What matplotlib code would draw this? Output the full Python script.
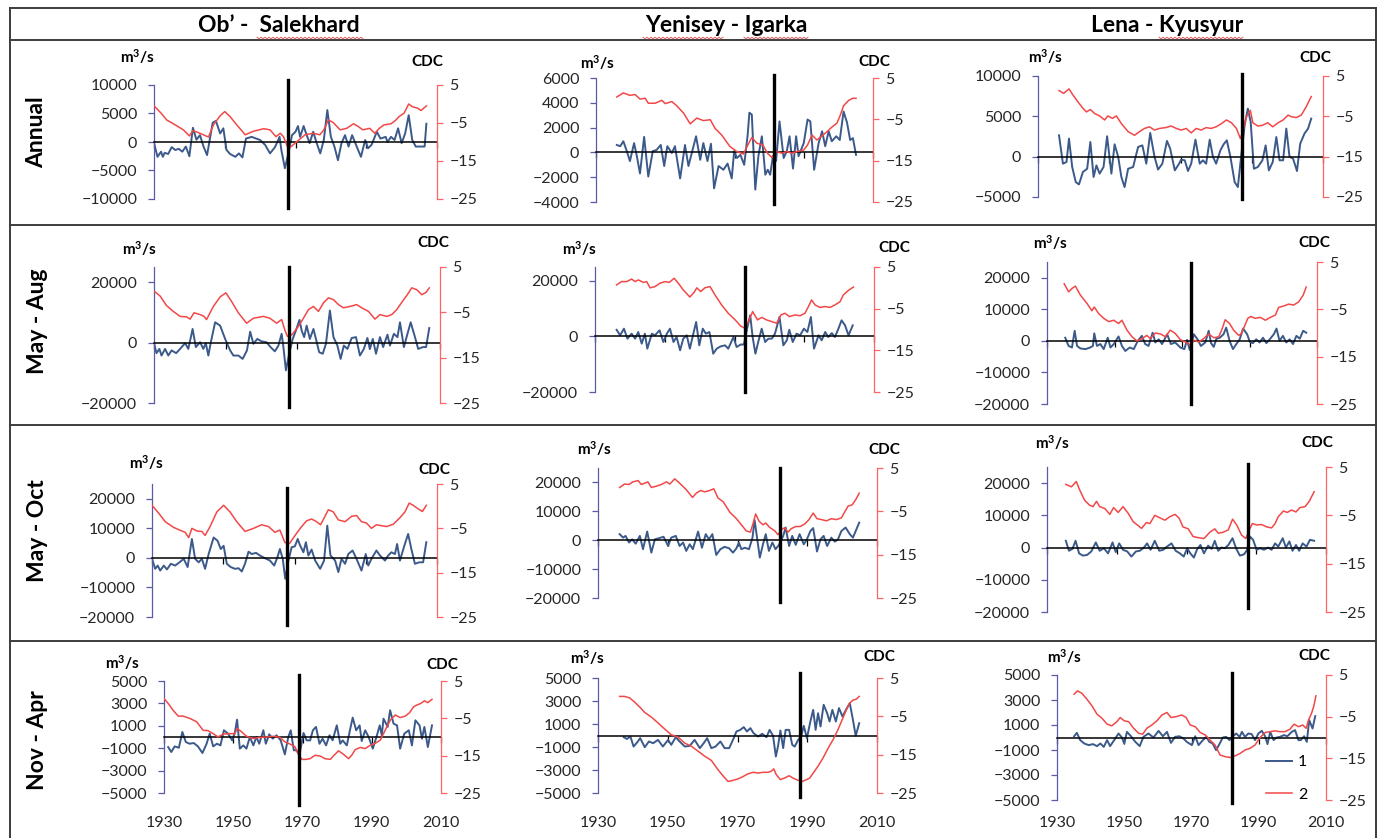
import matplotlib
matplotlib.use("Agg")
import matplotlib.pyplot as plt
import matplotlib.transforms as mtransforms
from matplotlib.lines import Line2D
import numpy as np

plt.rcParams['font.family'] = ['Lato', 'DejaVu Sans']
plt.rcParams['mathtext.fontset'] = 'custom'
plt.rcParams['mathtext.rm'] = 'Lato'
plt.rcParams['mathtext.bf'] = 'Lato:bold'

W, H = 1381, 838

rivers = ["Ob\u2019 -  Salekhard", "Yenisey - Igarka", "Lena - Kyusyur"]
seasons = ["Annual", "May - Aug", "May - Oct", "Nov - Apr"]
year_ticks = [1930, 1950, 1970, 1990, 2010]
cdc_ticks = [-25, -15, -5, 5]

flow_ticks = [
    [[-10000, -5000, 0, 5000, 10000], [-4000, -2000, 0, 2000, 4000, 6000], [-5000, 0, 5000, 10000]],
    [[-20000, 0, 20000], [-20000, 0, 20000], [-20000, -10000, 0, 10000, 20000]],
    [[-20000, -10000, 0, 10000, 20000]] * 3,
    [[-5000, -3000, -1000, 1000, 3000, 5000]] * 3,
]
flow_limits = [
    [(-10000, 10000), (-4000, 6000), (-5000, 10000)],
    [(-20000, 25000)] * 3,
    [(-20000, 25000)] * 3,
    [(-5000, 5000)] * 3,
]
break_years = [[1968, 1981.3, 1987.2], [1967.8, 1973.1, 1972.7], [1968, 1982.3, 1987.5], [1969, 1987.8, 1982]]

# ---- discharge anomalies (m3/s), (year, value) ----
ob_annual = [(1930, -200), (1931, -2600), (1932, -1700), (1932.5, -2600), (1933, -1900), (1934, -2100), (1935, -900),
             (1936, -1400), (1937, -1200), (1938, -1700), (1939, -800), (1940, -2500), (1941, 2500), (1942, 400),
             (1943, 1200), (1944, -800), (1945, -2300), (1946.6, 3400), (1947.5, 3700), (1948.7, 1500), (1949.6, 2400),
             (1950.5, -1400), (1951.5, -2100), (1953, -2600), (1954, -2000), (1955, -2700), (1956, 600), (1957.6, 900),
             (1958.9, 600), (1960, 350), (1961.4, -500), (1962.8, -2000), (1964.2, -900), (1965.5, 900), (1966, -1400),
             (1967, -4600), (1968, -2000), (1969, 1200), (1970, 1800), (1970.7, 2800), (1971.3, 900), (1972.3, 2800),
             (1973, 1500), (1974, -200), (1975, 1800), (1976, -200), (1977, -2000), (1978, 350), (1979, 5600),
             (1980, 900), (1981, -800), (1982, -3200), (1983, -200), (1984, 1200), (1985, -800), (1986, 1200),
             (1987.5, -1100), (1988.5, -2600), (1989.7, 350), (1990.5, -1100), (1991.5, -500), (1993, 1800),
             (1994, 600), (1995.5, 900), (1996, 0), (1997, 900), (1998, 350), (1999, 2400), (2000, -200), (2001, 1500),
             (2002, 4700), (2003, 350), (2004, -800), (2005.5, -800), (2006.5, -800), (2007, 3200)]
yen_annual = [(1936, 600), (1937, 500), (1937.9, 900), (1938.9, 100), (1939.8, -700), (1941, 750), (1941.8, -300),
              (1942.7, -1700), (1943.9, 1250), (1945.1, -1950), (1946.4, 100), (1947.5, 200), (1948.7, 600),
              (1949.7, -1100), (1950.6, 500), (1951.9, -50), (1952.8, 500), (1954.3, -2100), (1955.7, 600),
              (1956.7, -1100), (1958.9, 1300), (1960.1, -600), (1961, 750), (1962.2, -700), (1963.2, 700),
              (1964.1, -2900), (1965.4, -1100), (1966.8, -1400), (1968, -900), (1969.2, -2100), (1969.9, 100),
              (1970.7, -450), (1971.7, -200), (1972.8, -1000), (1973.8, 1400), (1974.3, 3200), (1975, 3050),
              (1976, -3000), (1976.9, -300), (1977.9, 1300), (1978.9, -1800), (1979.6, -1400), (1980.3, -1800),
              (1981.1, -300), (1982, -700), (1983, 2500), (1984.2, -450), (1985.1, 100), (1985.9, 1300),
              (1986.9, -1300), (1987.8, 1300), (1988.5, -300), (1990, 750), (1991.1, 2650), (1991.9, 2500),
              (1993, -1400), (1994.3, 750), (1995.3, 1700), (1996.2, 500), (1997.2, 1700), (1998.1, 900),
              (1999.4, 1300), (2000.4, 1000), (2001.5, 3300), (2002.5, 2400), (2003.4, 1000), (2004.2, 1150),
              (2005.1, -200)]
lena_annual = [(1935.9, 2650), (1937, -870), (1938, -660), (1938.7, 2240), (1939.6, -1280), (1940.6, -3150),
               (1941.5, -3440), (1942.6, -1900), (1943.8, -1500), (1944.7, 1820), (1945.6, -2520), (1946.4, -1080),
               (1947.3, -2100), (1948.4, -1280), (1949.4, 2530), (1950.6, -2100), (1951.5, 1530), (1952.5, 0),
               (1953.4, -2520), (1954.3, -3770), (1955.3, -1500), (1956.7, -1280), (1958.1, 1200), (1959.3, 1400),
               (1960.4, -870), (1961.5, 2940), (1962.7, 0), (1963.7, -1600), (1964.9, -870), (1966.2, 1950),
               (1967.1, 1000), (1968.4, -1700), (1969.6, -870), (1970.2, -370), (1971.2, -450), (1972.1, -1780),
               (1973, -870), (1974.2, 2110), (1975.4, -870), (1976.3, -450), (1977.2, -870), (1978.2, 2110),
               (1979.1, 0), (1980, -870), (1981.2, 790), (1982.1, 1530), (1983, 2030), (1984, 0), (1985.2, -3150),
               (1986.1, -3770), (1987.1, 370), (1988, 3890), (1988.9, 5960), (1989.7, 4300), (1990.6, -1500),
               (1991.7, -1280), (1993, -450), (1993.9, 1400), (1994.8, -1700), (1995.9, -660), (1996.9, 2440),
               (1997.8, -450), (1998.8, -450), (1999.7, 3480), (2000.6, 0), (2001.6, -250), (2002.7, -1780),
               (2003.6, 1610), (2004.8, 2860), (2005.8, 3480), (2006.7, 4720)]
ob_mayaug = [(1930, -200), (1930.7, -3500), (1931.5, -2100), (1932.1, -4300), (1933.1, -2100), (1934, -4300),
             (1934.9, -2600), (1936.2, -3500), (1937.3, -2100), (1938.7, -200), (1939.6, -2100), (1940.8, 4500),
             (1941.7, -1500), (1942.9, 100), (1943.8, -2100), (1944.5, -200), (1945.2, -4300), (1945.9, 100),
             (1947.1, 6700), (1948.5, 5600), (1949.9, 1200), (1951.3, -2600), (1952.2, -4300), (1953.6, -4300),
             (1954.8, -5400), (1956, -2600), (1956.9, 3600), (1957.8, -400), (1958.9, 1200), (1960.1, 400),
             (1961.5, 100), (1962.6, -1500), (1963.8, -2900), (1964.8, -1000), (1965.7, 2900), (1966.2, -1500),
             (1966.9, -9200), (1967.9, -3200), (1968.8, 1200), (1969.7, 4000), (1970.7, 7500), (1971.3, 4000),
             (1972, 1800), (1972.7, 5600), (1973.6, 1200), (1974.6, 4500), (1975.3, 1200), (1976.2, -3200),
             (1977.2, -3700), (1978.1, -400), (1979.2, 10600), (1980.2, 1800), (1981.3, -1000), (1982.2, -5400),
             (1983.1, -1000), (1984.1, -2100), (1985.3, 1500), (1986.5, 1800), (1987.6, -4300), (1988.7, -2100),
             (1989.7, 1500), (1990.4, -2100), (1991.2, 1200), (1992.1, -3700), (1993.2, 1800), (1994.1, -1500),
             (1995.3, 2600), (1996, -1000), (1997.1, 2900), (1998.1, 1800), (1998.8, 6700), (1999.9, -1500),
             (2000.9, 2900), (2001.8, 6700), (2003, 1800), (2003.9, -2100), (2005.2, -1500), (2006.1, -1500),
             (2007, 4800)]
yen_mayaug = [(1936.2, 2400), (1937.2, 400), (1938.3, 2800), (1939.3, -800), (1940.5, 1000), (1941.5, -800),
              (1942.4, 1600), (1943.4, -2600), (1944.3, 1000), (1945, -4400), (1946.3, 1000), (1947.2, 400),
              (1948.5, 2200), (1949.6, -2000), (1950.6, 1000), (1951.5, 2800), (1952.5, -2000), (1953.4, -200),
              (1954.4, -5000), (1955.3, -800), (1956.3, 400), (1957.2, -4400), (1958.2, 1000), (1959, 5200),
              (1959.9, -3200), (1960.9, 2800), (1961.8, 1000), (1962.8, 1600), (1963.9, -6200), (1964.9, -4400),
              (1966, -3600), (1967.3, -3200), (1968.2, -4400), (1969.7, -200), (1970.6, -3800), (1971.8, -2900),
              (1972.7, -2900), (1973.5, 2200), (1974.5, 7600), (1975.2, -200), (1976, -6200), (1976.8, -2000),
              (1977.8, 2800), (1978.8, -2000), (1979.7, -800), (1980.7, -800), (1981.6, 1000), (1982.9, 7000),
              (1984, -3200), (1985, -1400), (1985.7, 2400), (1986.7, -2000), (1987.8, 1000), (1988.8, 400),
              (1989.9, 2800), (1990.9, 1600), (1991.9, 7000), (1992.8, -4400), (1994.1, 400), (1995, -1400),
              (1996, 1600), (1996.9, -200), (1997.9, 1200), (1998.8, -200), (1999.8, 2800), (2000.7, 5800),
              (2001.7, 4000), (2002.7, 400), (2003.9, 4000)]
lena_mayaug = [(1935.4, 1000), (1936.4, -1600), (1937.4, -2100), (1938.2, 3200), (1938.9, -1600), (1939.9, -2400),
               (1941.4, -2600), (1942.8, -2100), (1943.6, -1600), (1944, 2400), (1944.8, -1600), (1945.8, -1000),
               (1946.8, -2600), (1948, 1000), (1948.8, -2100), (1949.8, -1000), (1951.2, 1400), (1952.2, -1600),
               (1953.2, -3200), (1954.5, -2100), (1955.7, -2600), (1956.9, 0), (1958.1, 1600), (1959.1, -1000),
               (1960.1, -1600), (1961.3, 2600), (1962.1, -500), (1963.1, 500), (1964.1, -1000), (1965.6, 2100),
               (1966.7, -1000), (1968, -500), (1969.5, -2100), (1970.7, -2600), (1971.5, 300), (1972.3, -2900),
               (1973.5, 2100), (1974.6, 500), (1975.6, -1600), (1976.9, -500), (1977.9, 3200), (1978.6, -700),
               (1979.4, -1900), (1980.2, 700), (1981.2, 1000), (1982.3, 2100), (1983.1, 4200), (1984.1, 0),
               (1985.1, -2600), (1986.1, -1000), (1987.1, 500), (1988.1, 3900), (1989.3, 2100), (1990.1, -300),
               (1991, -700), (1992, 500), (1993, -500), (1994, 1000), (1995, -700), (1996, 500), (1997.2, 2100),
               (1998, 3900), (1998.9, 0), (1999.9, 1600), (2000.9, -500), (2001.9, 500), (2002.9, -1000),
               (2003.9, 1600), (2004.9, 700), (2005.9, 3200), (2006.8, 2600)]
ob_mayoct = [(1930, -300), (1930.9, -3700), (1931.6, -2600), (1932.3, -4300), (1933.3, -2600), (1934.2, -3900),
             (1935.3, -2000), (1936.5, -2600), (1937.7, -1500), (1938.9, -300), (1940, -3100), (1941.2, 6400),
             (1942.1, -300), (1943.1, -1500), (1944, -300), (1944.9, -3700), (1945.9, 1300), (1947.3, 6900),
             (1948.4, 5800), (1949.3, 3000), (1950.1, 4100), (1951, -2000), (1952.1, -3100), (1953.3, -3700),
             (1954.3, -3500), (1955.2, -4600), (1956.1, -2000), (1957.1, 2100), (1958, 1300), (1959.2, 1700),
             (1960.3, 800), (1961.7, -100), (1963.1, -900), (1964.3, -2600), (1965.2, 200), (1965.9, 3000),
             (1966.7, -300), (1967.4, -7100), (1968.3, -900), (1969.2, 3600), (1970.1, 3900), (1970.9, 6400),
             (1971.5, 4400), (1972.5, 1900), (1973.2, 5300), (1973.9, 800), (1974.8, 2800), (1975.8, -900),
             (1977.2, -3700), (1978.3, -900), (1979.2, 10900), (1980.1, 800), (1981.4, -900), (1982.3, -4800),
             (1983.2, -300), (1984.2, -2000), (1985.1, 1300), (1986.3, 2500), (1987.4, -300), (1988.8, -4300),
             (1990, 1300), (1990.7, -2600), (1991.6, -300), (1993, 2500), (1994, 800), (1995.4, -900), (1996.3, 800),
             (1997.2, 1900), (1998.2, 1300), (1998.8, 4700), (1999.6, -900), (2000.7, 3600), (2001.9, 8100),
             (2002.8, 3000), (2003.8, -2000), (2005, -1500), (2006.1, -1500), (2007, 5300)]
yen_mayoct = [(1936.2, 2100), (1937.2, 900), (1937.9, 1500), (1938.9, -800), (1939.8, 300), (1940.8, -1200),
              (1942, 1500), (1942.9, -3100), (1944.1, 3000), (1945.3, -4300), (1946.3, 300), (1947.5, 700),
              (1948.8, 1200), (1950.1, -2000), (1951, 900), (1952.3, 1500), (1953.4, -2000), (1954.4, -800),
              (1955.3, -3700), (1956.3, -1400), (1957.2, -3100), (1958.7, 3000), (1959.8, -2600), (1960.9, 2100),
              (1961.8, 300), (1962.8, 2100), (1963.9, -5100), (1965.1, -3100), (1966.3, -2300), (1967.6, -2800),
              (1968.7, -4300), (1969.7, -2800), (1970.4, -800), (1971.1, -3100), (1972.1, -2600), (1973.3, -3100),
              (1974.3, 900), (1974.9, 7000), (1975.6, 900), (1976.4, -6000), (1977.3, -1400), (1978.1, 2100),
              (1979, -3700), (1980, -800), (1980.9, -3100), (1981.9, -1600), (1983.1, 1500), (1983.8, 4400),
              (1984.8, -2000), (1985.7, 1500), (1986.7, -1600), (1987.8, 2100), (1989, -1400), (1989.9, 300),
              (1990.9, 3200), (1991.7, 4200), (1992.8, -3900), (1993.8, 300), (1994.7, 1500), (1995.7, -2000),
              (1996.9, 900), (1997.9, -500), (1998.8, 300), (1999.8, 3200), (2001, 4400), (2002.2, 2100),
              (2003.1, 900), (2004.9, 6100)]
lena_mayoct = [(1935.4, 2100), (1936.3, -1000), (1937.3, -400), (1938.2, 2100), (1939.2, -1800), (1940.3, -2500),
               (1941.5, -2300), (1942.7, -1200), (1944, 1600), (1945.1, -1000), (1946.3, -200), (1947.5, -1800),
               (1948.8, 1600), (1949.7, -1400), (1950.7, 1300), (1951.8, -700), (1953, -1200), (1954.2, -2800),
               (1955.5, -1200), (1956.6, -1000), (1957.8, 0), (1958.7, 1300), (1959.7, -700), (1960.9, 2100),
               (1962.2, -1000), (1963.3, -700), (1964.4, 300), (1965.7, 1300), (1966.9, -1000), (1968.1, -1800),
               (1969.2, -2800), (1970.2, -200), (1971.1, -1800), (1972.1, -3100), (1973.1, -400), (1974, 800),
               (1975, -1800), (1976.2, 600), (1977.2, -400), (1978.1, 2100), (1979.1, -1000), (1980, 0),
               (1981, -200), (1982, 800), (1983.2, 2900), (1984.2, -200), (1985.3, -2500), (1986.5, -2100),
               (1987.4, -700), (1988.2, 3400), (1989.1, 2400), (1990.1, -700), (1991.1, -200), (1992.2, -700),
               (1993.4, 0), (1994.4, -700), (1995.4, 1300), (1996.3, 300), (1997.6, 2900), (1998.5, 0),
               (1999.5, 1900), (2000.4, -1000), (2001.4, 800), (2002.3, -1000), (2003.3, 1300), (2004.4, 300),
               (2005.4, 2400), (2006.6, 2100)]
ob_novapr = [(1931.2, -900), (1932.1, -1340), (1933.1, -840), (1934.3, -960), (1935.3, 450), (1936.3, -450),
             (1937.4, -600), (1938.6, -540), (1939.8, -840), (1941.1, -1430), (1942.3, -600), (1943.2, 300),
             (1944.2, -840), (1945.3, -600), (1946.3, -750), (1947.3, 600), (1948.5, 300), (1949.7, -300),
             (1950.5, 450), (1951.1, 1550), (1951.9, -1040), (1952.9, -750), (1953.8, -1040), (1954.8, 0),
             (1955.8, -750), (1956.7, 0), (1957.5, -600), (1958.7, 600), (1959.4, -600), (1960.4, 240),
             (1961.4, -150), (1962.5, 150), (1963.7, -300), (1964.9, -1550), (1965.9, 0), (1966.6, 600),
             (1967.5, -1190), (1968.3, -1190), (1969.1, -1640), (1970.3, 360), (1971.2, -300), (1972.2, -300),
             (1973, 600), (1973.9, 900), (1974.9, -600), (1975.8, -150), (1976.8, -750), (1977.8, 150),
             (1978.7, -300), (1979.9, 1040), (1980.9, -600), (1981.6, -300), (1982.8, -750), (1983.8, 750),
             (1984.5, 1730), (1985.5, 600), (1986.5, 1040), (1987.1, -360), (1988.1, 600), (1989.1, 0),
             (1990.3, -1040), (1991.5, 150), (1992.3, 1040), (1992.9, 150), (1993.4, 1640), (1994.6, 900),
             (1995.3, 2390), (1996.3, 1190), (1997.3, 1040), (1998.2, -1040), (1999.4, 300), (2000.7, 600),
             (2001.6, -750), (2002.6, 1490), (2003.8, 1040), (2004.5, -150), (2005.2, 900), (2006.2, -900),
             (2007.4, 1040)]
yen_novapr = [(1937.4, -150), (1938.3, -300), (1939.3, -90), (1940.2, -960), (1941.2, -610), (1942.1, -230),
              (1943.4, -1020), (1944.6, -520), (1945.8, -670), (1947.2, -380), (1948.6, -960), (1950.1, -380),
              (1951, -810), (1952.3, -150), (1953.4, -520), (1954.9, -960), (1956.3, -900), (1957.7, -380),
              (1959.2, -1100), (1960.3, -670), (1961.3, -230), (1962.5, -1100), (1963.7, -960), (1965.1, -520),
              (1966.3, -1100), (1967.6, -1100), (1968.7, -380), (1969.7, 350), (1970.8, 490), (1971.8, 730),
              (1972.7, 350), (1973.7, 640), (1974.6, 200), (1975.9, -90), (1977.1, 150), (1978.3, -150),
              (1979.2, 490), (1980.2, -30), (1981, -1830), (1981.6, -960), (1982.3, 440), (1983.1, -1100),
              (1983.8, 490), (1984.8, 490), (1985.7, -810), (1986.4, -960), (1987.4, -380), (1988.3, -30),
              (1989, 840), (1989.9, -230), (1990.9, 1220), (1991.7, 2230), (1992.4, 490), (1993.1, 1940),
              (1993.8, 780), (1994.7, 2670), (1995.7, 1940), (1996.4, 1220), (1997.2, 2230), (1998.2, 1220),
              (1999.1, 2380), (2000.1, 1650), (2001.2, 2290), (2002.2, 2810), (2003.1, 1360), (2003.9, -30),
              (2004.9, 1070)]
lena_novapr = [(1935.1, 100), (1935.9, 370), (1936.9, -210), (1938.1, -480), (1939.4, -610), (1940.7, -530),
               (1941.9, -690), (1942.9, -480), (1943.9, -750), (1944.9, -210), (1945.8, -690), (1947, -210),
               (1948.3, 320), (1949.3, 0), (1950, -480), (1950.8, 450), (1952, 100), (1953.3, -350), (1954.6, -690),
               (1955.7, 50), (1957.2, 320), (1958.7, 0), (1960.2, 530), (1961.5, 100), (1962.7, 450), (1963.9, -430),
               (1965.1, 50), (1966.4, 100), (1967.6, -80), (1968.6, -350), (1970.1, -610), (1971.1, 100),
               (1972.1, -610), (1973.4, -210), (1974.4, 50), (1975.3, -350), (1976.3, -480), (1977.3, -1010),
               (1978.3, -530), (1979.3, 0), (1980.3, 50), (1981.3, -210), (1982.3, 100), (1983.3, 320), (1984.3, 50),
               (1985, 450), (1985.9, 50), (1986.9, 320), (1987.9, 270), (1988.9, -210), (1989.9, 320), (1990.9, 530),
               (1991.9, 100), (1992.6, -530), (1993.4, 450), (1994.4, -210), (1995.3, 0), (1996.3, 50),
               (1997.5, 190), (1998.5, 100), (1999.8, 450), (2000.8, 590), (2001.8, -210), (2002.5, -210),
               (2003.5, 100), (2004.3, -350), (2005, 1390), (2006, 720), (2006.8, 1710)]

# ---- cumulative deviation curves (CDC), (year, value) ----
ob_annual_cdc = [(1930, -0.5), (1932, -2.4), (1933.6, -4.2), (1936, -5.5), (1938.3, -6.8), (1940, -8.4), (1941, -7.0),
                 (1943, -7.7), (1945.4, -8.7), (1946.8, -5.5), (1948.7, -3.1), (1950, -2.0), (1951.5, -3.3),
                 (1953.4, -5.5), (1955.8, -8.1), (1958, -7.2), (1961, -6.5), (1962.8, -6.8), (1964.5, -8.6),
                 (1965.7, -7.7), (1966.6, -8.6), (1967.7, -11.2), (1968.5, -11.4), (1970.4, -9.9), (1972.7, -8.1),
                 (1975, -7.7), (1976.9, -8.1), (1978, -6.8), (1979.3, -4.2), (1980.7, -4.9), (1982.6, -6.8),
                 (1984.5, -6.4), (1986.4, -5.2), (1987.7, -5.9), (1989, -6.8), (1991, -6.4), (1992.4, -7.7),
                 (1993.7, -6.4), (1995, -5.5), (1997, -5.2), (1998.4, -4.2), (1999.3, -3.3), (2000.7, -2.4),
                 (2002, 0.0), (2003, -0.7), (2004.5, -1.1), (2005.5, -1.7), (2007, -0.5)]
yen_annual_cdc = [(1936, 0.4), (1937.9, 1.4), (1939.8, 0.8), (1941.3, 1.0), (1942.7, -0.1), (1944.2, 0.1),
                  (1945.1, -1.1), (1947.1, -1.1), (1949, -0.4), (1950, -1.2), (1951.9, -0.7), (1953.3, -1.7),
                  (1955.3, -3.5), (1957.2, -6.1), (1959.1, -4.7), (1961, -5.3), (1963, -5.1), (1964.4, -7.2),
                  (1966.3, -8.8), (1968.7, -11.6), (1970.7, -12.8), (1972.6, -13.4), (1973.6, -11.6), (1975, -9.4),
                  (1976.5, -10.8), (1978.2, -11.2), (1979.5, -13.2), (1980.8, -14.2), (1982, -12.8), (1983.7, -13.2),
                  (1985.1, -12.8), (1986.6, -13.2), (1988, -12.8), (1990, -12.4), (1991.1, -11.2), (1992.4, -8.8),
                  (1993.8, -10.0), (1995.3, -9.0), (1996.7, -8.0), (1998.1, -6.9), (1999.6, -5.9), (2000.6, -3.9),
                  (2001.5, -1.7), (2003, -0.4), (2004.2, 0.1), (2005.1, 0.1)]
lena_annual_cdc = [(1935.9, 1.4), (1937.2, 0.7), (1938.7, 1.8), (1939.8, 0.3), (1941.2, -1.4), (1942.6, -3.0),
                   (1943.6, -3.9), (1944.7, -3.3), (1945.9, -4.3), (1947.3, -4.9), (1948.7, -5.9), (1949.6, -4.9),
                   (1950.9, -5.5), (1952, -4.9), (1953.4, -6.8), (1955.3, -8.8), (1957.1, -9.7), (1958.5, -8.8),
                   (1959.9, -8.0), (1961.3, -7.6), (1962.7, -8.4), (1964.1, -8.0), (1965.8, -7.8), (1967.4, -7.4),
                   (1968.8, -8.0), (1970.2, -8.4), (1971.6, -8.0), (1973, -9.1), (1974.4, -8.0), (1975.8, -8.4),
                   (1977.2, -7.8), (1978.6, -8.0), (1980, -7.6), (1981.5, -6.8), (1982.9, -5.9), (1984.3, -6.6),
                   (1985.7, -8.0), (1986.8, -10.5), (1987.5, -8.8), (1988.5, -5.1), (1989.6, -3.5), (1990.3, -6.6),
                   (1991.7, -7.4), (1993.1, -7.2), (1994.5, -6.6), (1995.9, -7.6), (1997.4, -6.6), (1998.8, -5.9),
                   (2000.2, -4.7), (2001.1, -5.1), (2002.5, -5.3), (2003.9, -4.7), (2005.3, -2.6), (2006.7, -0.1)]
ob_mayaug_cdc = [(1930, -0.3), (1931.7, -1.4), (1933.5, -3.5), (1935.4, -4.8), (1937.3, -5.9), (1939.1, -6.0),
                 (1940.1, -6.5), (1941.2, -5.1), (1942.9, -5.5), (1944, -5.9), (1944.7, -6.6), (1946.6, -3.7),
                 (1948.5, -1.6), (1950.1, -0.7), (1951.7, -2.6), (1953.6, -5.1), (1955.9, -7.4), (1957.8, -6.3),
                 (1960.6, -5.9), (1962.4, -6.3), (1964.3, -7.4), (1965.7, -6.6), (1966.6, -8.9), (1967.3, -10.3),
                 (1968.5, -10.0), (1970.4, -8.1), (1971.8, -6.3), (1973.2, -4.4), (1974.6, -3.7), (1976, -4.8),
                 (1977.4, -2.9), (1978.8, -1.8), (1980.2, -2.2), (1981.6, -3.3), (1983, -4.0), (1984.8, -3.7),
                 (1986.7, -3.3), (1988.1, -4.0), (1990, -4.8), (1991.8, -6.5), (1993.2, -5.5), (1995.1, -5.9),
                 (1996.5, -5.5), (1997.9, -4.4), (1999.3, -2.8), (2000.7, -1.3), (2002.1, 0.4), (2003.5, 0.0),
                 (2004.9, -1.1), (2006.1, -0.6), (2007, 0.4)]
yen_mayaug_cdc = [(1936.2, 0.7), (1937.6, 1.5), (1939.1, 1.5), (1940.5, 2.1), (1941.5, 1.5), (1942.4, 1.9),
                  (1943.9, 1.3), (1944.8, 1.5), (1945.8, 0.0), (1947.2, 0.3), (1948.6, 1.1), (1950.1, 1.5),
                  (1951.3, 1.3), (1952.7, 2.3), (1953.9, 1.1), (1955.3, -0.5), (1957.2, -2.2), (1958.4, -1.1),
                  (1959.2, 0.0), (1960.3, -0.9), (1961.5, 0.0), (1963, 0.3), (1964.4, -1.7), (1966.3, -4.1),
                  (1968.2, -6.1), (1970.2, -7.7), (1971.8, -9.2), (1973, -9.7), (1974, -8.1), (1975.2, -5.7),
                  (1976.6, -7.7), (1977.8, -7.1), (1979.2, -7.7), (1980.7, -8.1), (1982.1, -8.5), (1983.3, -6.5),
                  (1984.5, -6.1), (1985.7, -6.9), (1987.4, -6.5), (1988.8, -6.7), (1990.2, -6.1), (1991.2, -4.5),
                  (1992.1, -2.9), (1993.1, -4.1), (1994.5, -4.7), (1996, -4.5), (1997.4, -4.7), (1998.8, -4.1),
                  (2000.3, -3.3), (2001.2, -1.7), (2002.7, -0.6), (2004.1, 0.2)]
lena_mayaug_cdc = [(1935.1, 0.4), (1936.4, -1.3), (1937.4, -0.6), (1938.4, -0.1), (1939.9, -2.0), (1941.9, -3.8),
                   (1943.3, -5.3), (1944, -4.5), (1945.3, -5.9), (1946.8, -6.9), (1948.3, -7.6), (1949.8, -7.3),
                   (1951.2, -8.0), (1952.2, -7.3), (1953.7, -9.4), (1955.2, -10.8), (1956.7, -11.7), (1958.1, -11.2),
                   (1959.6, -10.5), (1960.6, -11.2), (1962.1, -10.0), (1963.6, -10.2), (1965.1, -10.8),
                   (1966.5, -9.4), (1968, -10.1), (1969.5, -11.4), (1971, -11.9), (1972.7, -12.6), (1973.5, -11.5),
                   (1974.9, -11.9), (1976.4, -11.2), (1977.9, -10.2), (1979.4, -11.0), (1980.9, -10.8),
                   (1981.9, -9.1), (1982.8, -7.2), (1984.1, -8.0), (1985.3, -9.4), (1986.8, -10.5), (1987.5, -10.2),
                   (1988.5, -8.6), (1989.5, -6.9), (1990.4, -6.5), (1991.7, -6.9), (1993.2, -6.7), (1994.7, -7.3),
                   (1996.2, -6.7), (1997.7, -6.2), (1998.6, -4.6), (2000.1, -4.3), (2001.6, -3.9), (2003.1, -4.1),
                   (2004.6, -3.4), (2005.9, -2.0), (2006.8, -0.3)]
ob_mayoct_cdc = [(1930, 0.2), (1931.9, -1.6), (1933.7, -3.5), (1936.1, -4.8), (1938.4, -5.6), (1939.3, -5.9),
                 (1940.3, -7.1), (1941.2, -5.0), (1942.6, -5.6), (1944, -5.7), (1944.9, -6.6), (1946.3, -4.6),
                 (1948.2, -1.3), (1950.1, 0.2), (1951.9, -1.3), (1953.8, -3.5), (1956.1, -5.7), (1958.5, -5.0),
                 (1960.8, -4.2), (1962.7, -4.6), (1964.5, -5.9), (1965.9, -5.4), (1967.3, -8.2), (1968.6, -8.4),
                 (1970.6, -6.1), (1972, -4.6), (1973.4, -3.3), (1974.8, -2.9), (1976.2, -3.5), (1977.3, -4.2),
                 (1978.3, -2.7), (1979.5, -0.8), (1980.9, -1.3), (1982.3, -3.1), (1984.2, -3.5), (1986, -2.3),
                 (1987.4, -2.1), (1988.8, -3.5), (1990.2, -3.8), (1991.6, -5.0), (1993, -4.2), (1994.4, -4.4),
                 (1995.8, -4.6), (1997.7, -4.1), (1999.6, -2.6), (2001, -1.3), (2002.2, 0.7), (2003.3, 0.2),
                 (2004.7, -0.6), (2005.9, -1.2), (2007, 0.2)]
yen_mayoct_cdc = [(1936.2, 0.5), (1937.6, 1.3), (1938.9, 1.2), (1940, 1.8), (1941.5, 2.1), (1942.4, 1.2),
                  (1943.4, 1.5), (1944.3, 1.8), (1945.3, 0.5), (1946.7, 0.8), (1948.2, 1.2), (1949.6, 1.8),
                  (1950.6, 1.3), (1952, 2.5), (1953.4, 1.5), (1955.3, 0.0), (1957.1, -1.8), (1958.2, -0.8),
                  (1959.4, -0.2), (1960.6, -0.5), (1962, -0.2), (1963.2, 0.2), (1964.4, -1.9), (1965.9, -2.8),
                  (1967.8, -5.2), (1969.7, -6.7), (1971.1, -8.1), (1972.5, -9.5), (1973.7, -9.8), (1974.5, -7.7),
                  (1975.2, -5.6), (1976.2, -7.3), (1977.3, -8.1), (1978.1, -7.7), (1979.2, -8.7), (1980.7, -9.5),
                  (1981.6, -10.4), (1982.6, -9.2), (1983.5, -8.8), (1984.5, -9.8), (1985.4, -9.0), (1986.7, -8.5),
                  (1988, -8.5), (1989.3, -7.9), (1990.5, -6.9), (1991.7, -5.4), (1992.8, -6.7), (1994.1, -6.9),
                  (1995.5, -7.2), (1996.9, -6.7), (1998.4, -6.9), (1999.8, -6.5), (2000.7, -5.2), (2001.7, -3.8),
                  (2002.9, -3.5), (2003.9, -2.3), (2004.9, -0.8)]
lena_mayoct_cdc = [(1935.4, 1.4), (1937, 0.9), (1938.4, 2.0), (1939.4, 0.2), (1940.8, -1.9), (1942.2, -2.9),
                   (1943.2, -3.2), (1944.2, -2.1), (1945.1, -3.2), (1946.6, -3.6), (1948, -4.8), (1949.1, -3.4),
                   (1950.4, -4.4), (1951.8, -3.2), (1953.3, -4.6), (1954.7, -6.3), (1956.1, -7.1), (1957.1, -7.7),
                   (1958.5, -6.5), (1959.5, -6.7), (1960.9, -5.0), (1962.3, -5.5), (1963.8, -6.0), (1965.2, -5.3),
                   (1966.7, -4.8), (1967.9, -5.6), (1969, -7.4), (1970.5, -7.8), (1971.9, -9.4), (1973.3, -9.6),
                   (1975, -9.8), (1976.7, -8.5), (1978.1, -7.8), (1979.1, -8.7), (1980.5, -8.5), (1982, -8.0),
                   (1983.2, -5.8), (1984.4, -7.0), (1985.8, -9.1), (1987, -9.8), (1988, -8.0), (1988.9, -6.7),
                   (1990.1, -7.0), (1991.5, -6.9), (1993, -7.4), (1994.4, -7.6), (1995.4, -6.7), (1996.3, -5.3),
                   (1997.8, -4.1), (1998.9, -4.4), (2000.1, -3.9), (2001.4, -4.3), (2002.5, -3.4), (2004, -3.2),
                   (2005.2, -2.1), (2006.6, -0.1)]
ob_novapr_cdc = [(1930, 0.3), (1931.2, -1.0), (1932.6, -2.8), (1934.1, -4.4), (1935.5, -4.4), (1937.4, -5.0),
                 (1939.4, -5.9), (1941.3, -8.2), (1942.7, -8.3), (1944.2, -9.1), (1945.6, -10.0), (1947.1, -9.2),
                 (1949, -9.1), (1950.5, -9.1), (1951.1, -7.7), (1952.4, -8.6), (1953.8, -9.8), (1955.8, -10.4),
                 (1957.7, -10.1), (1959.6, -10.0), (1961.6, -9.8), (1963.5, -10.1), (1964.9, -11.3), (1966.4, -11.9),
                 (1967.8, -12.6), (1968.8, -14.6), (1969.8, -16.0), (1971, -16.0), (1972.2, -15.8), (1973.6, -14.9),
                 (1975.1, -15.1), (1976.5, -15.8), (1978, -16.0), (1978.9, -15.1), (1980.4, -13.7), (1981.8, -14.6),
                 (1983.3, -15.8), (1984.2, -14.9), (1985.2, -13.4), (1986.7, -12.8), (1988.1, -13.1),
                 (1989.6, -12.2), (1991, -11.7), (1992.5, -10.8), (1993.4, -9.1), (1994.6, -6.8), (1995.5, -5.3),
                 (1996.8, -4.1), (1998.2, -4.8), (1999.7, -4.4), (2000.9, -3.5), (2002.1, -1.9), (2003.1, -1.4),
                 (2004.2, -1.0), (2005.2, -0.3), (2006.2, -0.8), (2007.4, 0.1)]
yen_novapr_cdc = [(1936.2, 0.2), (1937.6, 0.2), (1939.1, -0.2), (1940.5, -1.3), (1942, -2.6), (1943.4, -4.0),
                  (1945.3, -5.2), (1947.2, -6.7), (1949.1, -8.3), (1951, -9.8), (1952.9, -10.4), (1954.9, -12.0),
                  (1956.8, -12.8), (1958.7, -14.1), (1960.6, -15.4), (1962.5, -16.5), (1964.4, -18.9),
                  (1966, -20.7), (1967.3, -22.0), (1968.7, -21.7), (1970.2, -21.3), (1971.6, -20.7), (1973, -20.0),
                  (1974.5, -19.6), (1975.9, -19.8), (1977.3, -19.6), (1978.8, -19.6), (1979.7, -19.3),
                  (1980.4, -18.7), (1981.1, -20.2), (1982.3, -21.5), (1983.5, -21.1), (1984.8, -20.5),
                  (1985.9, -21.1), (1987.4, -21.7), (1988.6, -22.0), (1989.8, -21.5), (1990.7, -21.1),
                  (1991.7, -19.8), (1993.1, -18.0), (1994.5, -15.9), (1996, -13.3), (1997.4, -11.1), (1998.8, -8.5),
                  (2000.1, -5.7), (2001.2, -3.3), (2002.2, -1.5), (2003.1, -0.8), (2004.1, -0.5), (2004.9, 0.2)]
lena_novapr_cdc = [(1935.1, 0.4), (1936.1, 1.2), (1937.4, 0.6), (1938.9, -0.8), (1940.4, -2.4), (1941.9, -4.4),
                   (1943.4, -5.4), (1944.9, -6.8), (1946.3, -7.2), (1947.8, -6.2), (1948.8, -5.2), (1950, -6.0),
                   (1951.3, -6.2), (1952.8, -7.8), (1954.3, -9.0), (1955.5, -9.2), (1956.7, -7.8), (1958.2, -7.0),
                   (1959.7, -6.0), (1961.2, -4.6), (1962.7, -4.0), (1963.9, -5.2), (1965.4, -5.0), (1967.1, -4.6),
                   (1968.4, -5.2), (1969.6, -7.0), (1971.1, -7.4), (1972.6, -8.8), (1974.1, -9.4), (1975.5, -10.6),
                   (1977, -11.8), (1978.5, -14.2), (1980, -14.6), (1981.5, -14.8), (1983, -14.4), (1984.5, -13.8),
                   (1985.9, -13.0), (1987.4, -12.6), (1988.9, -11.8), (1990.4, -10.0), (1991.9, -8.8),
                   (1993.4, -8.6), (1994.9, -8.4), (1996.3, -8.6), (1997.8, -8.6), (1999.3, -8.0), (2000.5, -6.8),
                   (2001.8, -7.4), (2003.1, -7.0), (2004.1, -7.8), (2004.8, -5.8), (2005.7, -4.2), (2006.4, -2.4),
                   (2007, 0.0)]

flow_series = [[ob_annual, yen_annual, lena_annual], [ob_mayaug, yen_mayaug, lena_mayaug],
               [ob_mayoct, yen_mayoct, lena_mayoct], [ob_novapr, yen_novapr, lena_novapr]]
cdc_series = [[ob_annual_cdc, yen_annual_cdc, lena_annual_cdc], [ob_mayaug_cdc, yen_mayaug_cdc, lena_mayaug_cdc],
              [ob_mayoct_cdc, yen_mayoct_cdc, lena_mayoct_cdc], [ob_novapr_cdc, yen_novapr_cdc, lena_novapr_cdc]]

# ---- layout (pixels of the 1381x838 canvas) ----
# plot box: left spine x, right spine x, y of top limit, y of bottom limit
boxes = [
    [(154, 437, 85, 199), (596, 873, 78, 202), (1038, 1323, 76, 197)],
    [(154, 440, 267, 403), (595, 874, 267, 392), (1047, 1317, 262, 404)],
    [(152, 437, 484, 617), (598, 877, 468, 598), (1047, 1326, 467, 612)],
    [(164, 441, 681, 793), (598, 877, 678, 793), (1057, 1326, 675, 800)],
]
vline_span = [
    [(-0.08, 1.044), (-0.016, 1.024), (-0.017, 1.017)],
    [(-0.03, 1.0), (0.0, 1.0), (0.0, 0.99)],
    [(-0.06, 0.97), (-0.03, 1.0), (0.03, 1.02)],
    [(-0.107, 1.054), (-0.035, 1.043), (-0.024, 1.016)],
]
unit_pos = [[(137, 57), (597, 63), (1045, 57)], [(139, 249), (579, 249), (1050, 243)],
            [(146, 463), (594, 449), (1052, 443)], [(122, 663), (587, 658), (1064, 657)]]
cdc_pos = [[(427, 62), (874, 62), (1315, 58)], [(433, 243), (894, 248), (1314, 243)],
           [(434, 470), (884, 450), (1317, 443)], [(442, 665), (879, 657), (1314, 656)]]
header_x = [279, 726, 1167]
row_label_y = [132, 321, 531, 740]

FLOW_C = '#3b5a8a'
CDC_C = '#f24848'
LEFT_C = '#5a5aa8'
RIGHT_C = '#ff6464'
TXT_C = '#262626'


def fx(x):
    return x / W


def fy(y):
    return 1 - y / H


fig = plt.figure(figsize=(W / 100, H / 100), dpi=100)
fig.patch.set_facecolor('white')

# table frame
grid_c = '#3c3c3c'
for y in [8, 40, 225, 425, 641]:
    fig.add_artist(Line2D([fx(10), fx(1376)], [fy(y), fy(y)], color=grid_c, lw=1.4))
for x in [10, 1376]:
    fig.add_artist(Line2D([fx(x), fx(x)], [fy(8), fy(838)], color=grid_c, lw=1.4))

# column headers with spell-check squiggles
for j, name in enumerate(rivers):
    fig.text(fx(header_x[j]), fy(25), name, ha='center', va='center', fontsize=16.5, fontweight='bold', color='black')
for x0, x1 in [(257, 363), (643, 723), (744, 809), (1159, 1243)]:
    xs = np.arange(x0, x1 + 1, 2.0)
    ys = 38 + np.where(np.arange(len(xs)) % 2 == 0, -0.8, 0.8)
    fig.add_artist(Line2D(fx(xs), fy(ys), color='#e06060', lw=0.7))

for i, season in enumerate(seasons):
    fig.text(fx(37), fy(row_label_y[i]), season, rotation=90, ha='center', va='center',
             fontsize=16.5, fontweight='bold', color='black')

for i in range(4):
    for j in range(3):
        l, r, t, b = boxes[i][j]
        ax = fig.add_axes([fx(l), fy(b), (r - l) / W, (b - t) / H])
        ax.patch.set_visible(False)
        ax2 = ax.twinx()

        yrs, q = zip(*flow_series[i][j])
        cyrs, cdc = zip(*cdc_series[i][j])
        l1, = ax.plot(yrs, q, color=FLOW_C, lw=1.4, solid_joinstyle='round')
        l2, = ax2.plot(cyrs, cdc, color=CDC_C, lw=1.1, solid_joinstyle='round')

        ax.set_xlim(1930, 2010)
        ax.set_ylim(*flow_limits[i][j])
        ax.set_yticks(flow_ticks[i][j])
        ax2.set_ylim(-25, 5)
        ax2.set_yticks(cdc_ticks)

        for s in ['top', 'right']:
            ax.spines[s].set_visible(False)
        for s in ['top', 'left', 'bottom']:
            ax2.spines[s].set_visible(False)
        ax.spines['left'].set_color(LEFT_C)
        ax.spines['left'].set_linewidth(0.9)
        ax2.spines['right'].set_color(RIGHT_C)
        ax2.spines['right'].set_linewidth(0.9)
        ax.spines['bottom'].set_position(('data', 0))
        ax.spines['bottom'].set_color('black')
        ax.spines['bottom'].set_linewidth(1.1)

        ax.set_xticks(year_ticks)
        ax.tick_params(axis='x', direction='out', length=4, width=0.9, color='black', labelbottom=False)
        ax.tick_params(axis='y', direction='out', length=4, width=0.9, color=LEFT_C, pad=8,
                       labelsize=11.5, labelcolor=TXT_C)
        ax2.tick_params(axis='y', direction='out', length=4, width=0.9, color=RIGHT_C, pad=5,
                        labelsize=11.5, labelcolor=TXT_C)

        y0, y1 = vline_span[i][j]
        ax2.axvline(break_years[i][j], ymin=y0, ymax=y1, color='black', lw=2.4, clip_on=False, zorder=5)

        ux, uy = unit_pos[i][j]
        fig.text(fx(ux), fy(uy), r'$\mathbf{m^{3}/s}$', ha='center', va='center', fontsize=11, color='black')
        cx, cy = cdc_pos[i][j]
        fig.text(fx(cx), fy(cy), 'CDC', ha='center', va='center', fontsize=11, fontweight='bold', color='black')

        if i == 3:
            trans = mtransforms.blended_transform_factory(ax.transData, fig.transFigure)
            for yr in year_ticks:
                ax.text(yr, fy(823), str(yr), transform=trans, ha='center', va='center',
                        fontsize=11.5, color=TXT_C)
            if j == 2:
                ax2.legend([l1, l2], ['1', '2'], loc='upper left', bbox_to_anchor=(fx(1266), fy(755)),
                           bbox_transform=fig.transFigure, frameon=False, handlelength=1.6, handletextpad=0.4,
                           labelspacing=1.15, fontsize=11.5, borderpad=0, borderaxespad=0)

fig.savefig('out.png', dpi=100, facecolor='white')
